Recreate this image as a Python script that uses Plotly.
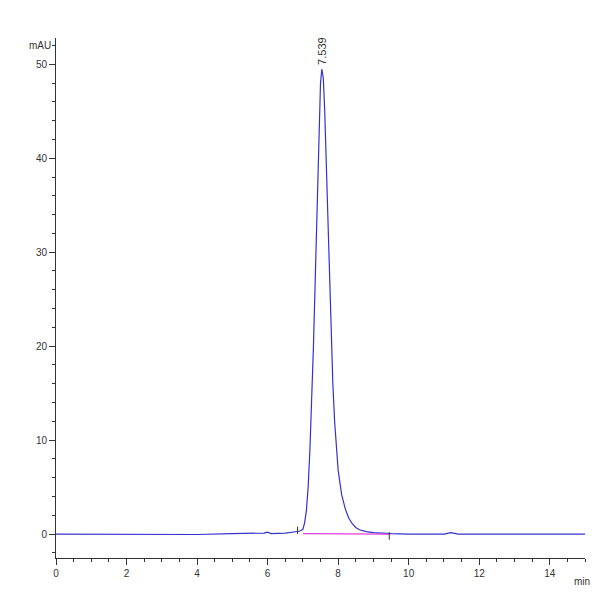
import plotly.graph_objects as go

time = [0, 1, 2, 3, 4, 5, 5.9, 6.0, 6.1, 6.5, 6.9, 7.0, 7.05, 7.1, 7.15, 7.2, 7.25, 7.3, 7.35, 7.4, 7.45, 7.5,
        7.539, 7.58, 7.62, 7.66, 7.7, 7.75, 7.8, 7.85, 7.9, 7.95, 8.0, 8.1, 8.2, 8.3, 8.4, 8.5, 8.6, 8.8,
        9.0, 9.5, 10, 11, 11.2, 11.4, 12, 13, 14, 15]
signal = [0, 0, -0.05, 0, -0.05, 0.05, 0.1, 0.2, 0.05, 0.1, 0.3, 0.5, 1.2, 2.5, 5, 9, 14, 20, 27, 35, 42, 48,
          49.5, 48.5, 45, 40, 34, 27, 21, 16, 12, 9, 6.8, 4.2, 2.7, 1.7, 1.1, 0.7, 0.45, 0.25,
          0.15, 0.05, 0, 0, 0.15, 0, 0, 0, 0, 0]
base_t = [7.0, 9.45]
base_v = [0.05, 0.0]
peak_t = 7.539
peak_v = 49.5
marker_t = [6.85, 9.45]

FONT = "Liberation Sans Narrow, Liberation Sans, sans-serif"
fig = go.Figure()
fig.add_trace(go.Scatter(x=time, y=signal, mode="lines", line=dict(color="#3333cc", width=1.2)))
fig.add_trace(go.Scatter(x=base_t, y=base_v, mode="lines", line=dict(color="#e040e0", width=1.2)))
for t, dy in zip(marker_t, [(0.0, 0.8), (-0.6, 0.2)]):
    fig.add_trace(go.Scatter(x=[t, t], y=list(dy), mode="lines", line=dict(color="#333", width=1)))
fig.add_annotation(x=peak_t, y=peak_v, text="7.539", textangle=-90, showarrow=False,
                   yanchor="bottom", yshift=2, font=dict(size=11, color="#333", family=FONT))
fig.add_annotation(xref="paper", yref="paper", x=0.995, y=-0.03, text="min", showarrow=False,
                   xanchor="center", yanchor="top", font=dict(size=10, color="#333", family=FONT))
fig.add_annotation(xref="paper", yref="paper", x=-0.005, y=0.985, text="mAU", showarrow=False,
                   xanchor="right", yanchor="middle", font=dict(size=10, color="#333", family=FONT))
fig.update_layout(width=600, height=600, showlegend=False, plot_bgcolor="white", paper_bgcolor="white",
                  margin=dict(l=48, r=23, t=30, b=50), font=dict(family=FONT, size=10, color="#333"))
fig.update_xaxes(range=[0, 15], dtick=2, showgrid=False, zeroline=False, showline=True, linecolor="#333",
                 ticks="outside", ticklen=6, tickcolor="#333", automargin=False,
                 minor=dict(dtick=0.5, ticks="outside", ticklen=3, tickcolor="#333"))
fig.update_yaxes(range=[-2.55, 52.8], tick0=0, dtick=10, showgrid=False, zeroline=False, showline=True,
                 linecolor="#333", ticks="outside", ticklen=6, tickcolor="#333", automargin=False,
                 minor=dict(tick0=0, dtick=2, ticks="outside", ticklen=3, tickcolor="#333"))
fig.write_html("out.html")
